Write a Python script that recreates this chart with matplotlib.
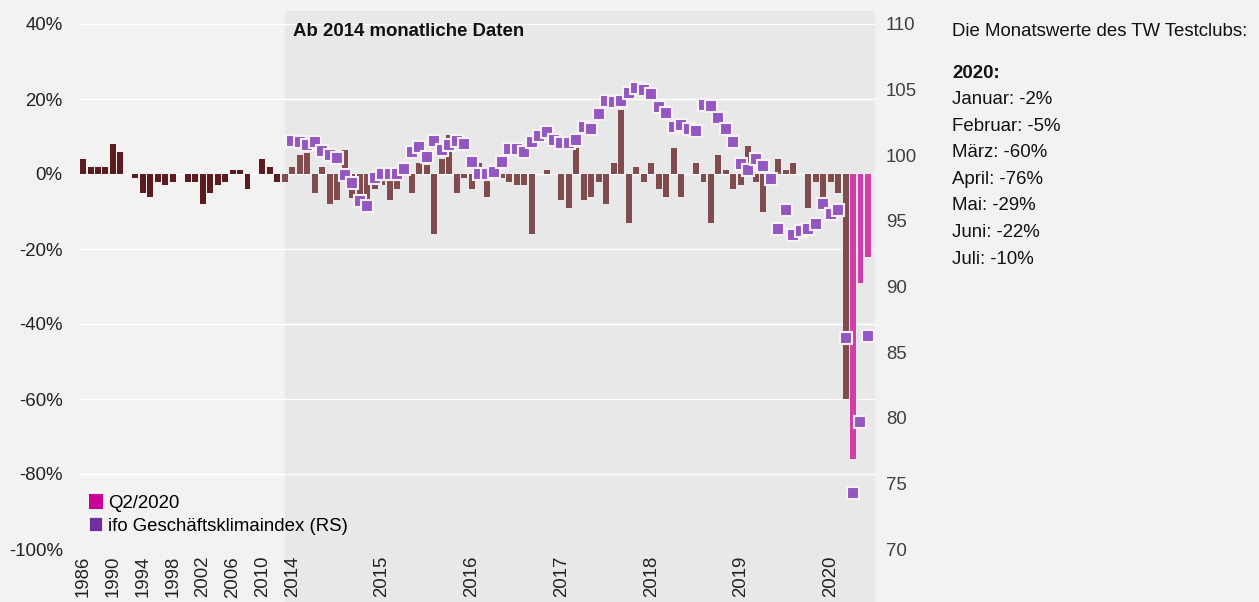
import numpy as np
import matplotlib
matplotlib.use("Agg")
import matplotlib.pyplot as plt
from matplotlib.patches import Patch, Rectangle
from matplotlib.transforms import blended_transform_factory

# yearly values 1986-2013 (TW Testclub, % change)
years_annual = list(range(1986, 2014))
pct_annual = [4, 2, 2, 2, 8, 6, 0, -1, -5, -6, -2, -3, -2, 0,
              -2, -2, -8, -5, -3, -2, 1, 1, -4, 0, 4, 2, -2, -2]

# monthly values Jan 2014 - Jun 2020
pct_monthly = [
    2, 5, 5.5, -5, 2, -8, -7, 6.5, -6.5, -9, -7, -4,          # 2014
    -3, -7, -4, 0, -5, 3, 2.5, -16, 4, 10.5, -5, -1,          # 2015
    -4, 3, -6, 0, -1, -2, -3, -3, -16, 0, 1, 0,               # 2016
    -7, -9, 7, -7, -6, -2, -8, 3, 17, -13, 2, -2,             # 2017
    3, -4, -6, 7, -6, 0, 3, -2, -13, 5, 1, -4,                # 2018
    -3, 7.5, -2, -10, 0, 4, 1, 3, 0, -9, -2, -6,              # 2019
    -2, -5, -60, -76, -29, -22,                               # 2020
]
q2_months = ["2020-04", "2020-05", "2020-06"]

# ifo business climate index, right scale
ifo_monthly = [
    101.1, 101.0, 100.8, 101.0, 100.3, 100.0, 99.8, 98.5, 97.9, 96.5, 96.1, 98.3,
    98.6, 98.55, 98.6, 98.95, 100.25, 100.6, 99.85, 101.05, 100.4, 100.75, 101.05, 100.85,
    99.45, 98.55, 98.55, 98.75, 99.45, 100.45, 100.45, 100.25, 101.0, 101.45, 101.75, 101.15,
    100.95, 100.95, 101.2, 102.15, 102.0, 103.15, 104.1, 104.05, 104.1, 104.75, 105.15, 104.95,
    104.7, 103.7, 103.25, 102.15, 102.3, 102.0, 101.85, 103.85, 103.75, 102.85, 102.0, 101.0,
    99.3, 98.85, 99.75, 99.2, 98.2, 94.4, 95.8, 93.9, 94.2, 94.4, 94.8, 96.3,
    95.55, 95.8, 86.05, 74.25, 79.65, 86.25,
]

months = [f"{y}-{m:02d}" for y in range(2014, 2021) for m in range(1, 13)][:len(pct_monthly)]

legend_labels = ["Q2/2020", "ifo Geschäftsklimaindex (RS)"]
panel_title = "Die Monatswerte des TW Testclubs:"
panel_year = "2020:"
panel_lines = ["Januar: -2%", "Februar: -5%", "März: -60%", "April: -76%",
               "Mai: -29%", "Juni: -22%", "Juli: -10%"]

plt.rcParams['font.family'] = ['Liberation Sans', 'DejaVu Sans']
plt.rcParams['font.size'] = 13.4

W, H = 1259, 602
fig = plt.figure(figsize=(W / 100, H / 100), dpi=100, facecolor='#f2f2f2')
ax_l, ax_r, ax_t, ax_b = 79.3, 874.7, 24, 549
ax = fig.add_axes([ax_l / W, 1 - ax_b / H, (ax_r - ax_l) / W, (ax_b - ax_t) / H])
ax.set_facecolor('none')

n_a = len(pct_annual)
x_a = np.arange(n_a)
x_m = n_a + np.arange(len(pct_monthly))
xmax = x_m[-1] + 0.9
shade_start = n_a - 1.05

# shaded "monthly" zone, full figure height
trans = blended_transform_factory(ax.transData, fig.transFigure)
ax.add_patch(Rectangle((shade_start, 0), xmax - shade_start, 1 - 11 / H,
                       transform=trans, facecolor='#e8e8e8', edgecolor='none',
                       zorder=0.1, clip_on=False))

dark = '#5b1b1f'
light = '#804c4e'
pink = '#d23ea8'
ann_cols = [light if x >= shade_start else dark for x in x_a]
ax.bar(x_a, pct_annual, width=0.8, color=ann_cols, zorder=2)

is_q2 = np.array([m in q2_months for m in months])
pm = np.array(pct_monthly)
ax.bar(x_m[~is_q2], pm[~is_q2], width=0.8, color=light, zorder=2)
ax.bar(x_m[is_q2], pm[is_q2], width=0.8, color=pink, zorder=2)

ax.set_xlim(-0.5, xmax)
ax.set_ylim(-100, 40)
ax.set_yticks(np.arange(-100, 41, 20))
ax.set_yticklabels([f"{v}%" for v in range(-100, 41, 20)])
ax.yaxis.grid(True, color='white', lw=1.0)
ax.set_axisbelow(True)

tick_pos = list(x_a[::4]) + [n_a + 12 * i for i in range(7)]
tick_lab = [str(y) for y in years_annual[::4]] + [str(y) for y in range(2014, 2021)]
ax.set_xticks(tick_pos)
ax.set_xticklabels(tick_lab, rotation=90, va='top', ha='center')
ax.tick_params(axis='both', length=0, colors='#222222')
ax.tick_params(axis='y', pad=12)
ax.tick_params(axis='x', pad=5)
for s in ax.spines.values():
    s.set_visible(False)

ax2 = ax.twinx()
ax2.set_ylim(70, 110)
ax2.set_yticks(np.arange(70, 111, 5))
ax2.plot(x_m, ifo_monthly, ls='none', marker='s', ms=8.6, mfc='#9457c2',
         mec='#f6f2f8', mew=1.5, zorder=3)
ax2.tick_params(axis='y', length=0, pad=8, colors='#404040')
for s in ax2.spines.values():
    s.set_visible(False)

fig.text(293 / W, 1 - 32 / H, "Ab 2014 monatliche Daten", fontweight='bold',
         va='center', ha='left', color='#111111')

handles = [Patch(facecolor='#cc0099', edgecolor='none'),
           Patch(facecolor='#7030a0', edgecolor='white', linewidth=1.2)]
fig.legend(handles, legend_labels, loc='lower left',
           bbox_to_anchor=(76 / W, 1 - 548 / H), frameon=False,
           handlelength=0.75, handleheight=0.9, handletextpad=0.25,
           labelspacing=0.25, borderpad=0.2)

px = 952 / W
fig.text(px, 1 - 32 / H, panel_title, va='center', ha='left', color='#111111')
fig.text(px, 1 - 74 / H, panel_year, va='center', ha='left', fontweight='bold',
         color='#111111')
for i, line in enumerate(panel_lines):
    fig.text(px, 1 - (100 + 26.5 * i) / H, line, va='center', ha='left',
             color='#111111')

fig.savefig('out.png', dpi=100, facecolor=fig.get_facecolor())
